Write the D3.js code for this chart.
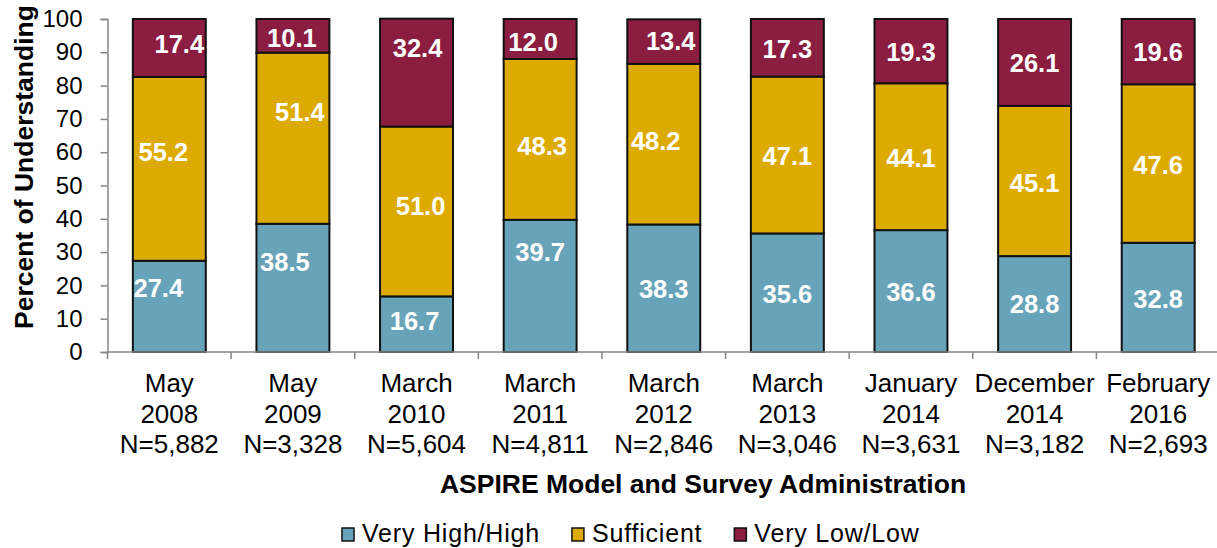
<!DOCTYPE html>
<html>
<head>
<meta charset="utf-8">
<script src="https://cdn.jsdelivr.net/npm/d3@7"></script>
<style>
  html, body { margin: 0; padding: 0; background: #fff; }
  svg { display: block; font-family: "Liberation Sans", Arial, sans-serif; }
</style>
</head>
<body>
<svg id="chart" width="1217" height="548"></svg>
<script>
// Survey administrations (category axis)
const periods = ["May 2008", "May 2009", "March 2010", "March 2011", "March 2012",
                 "March 2013", "January 2014", "December 2014", "February 2016"];
const periodMonth = ["May", "May", "March", "March", "March", "March", "January", "December", "February"];
const periodYear  = ["2008", "2009", "2010", "2011", "2012", "2013", "2014", "2014", "2016"];
const sampleSize  = ["5,882", "3,328", "5,604", "4,811", "2,846", "3,046", "3,631", "3,182", "2,693"];

// Percent of understanding by level
const veryHighHigh = [27.4, 38.5, 16.7, 39.7, 38.3, 35.6, 36.6, 28.8, 32.8];
const sufficient   = [55.2, 51.4, 51.0, 48.3, 48.2, 47.1, 44.1, 45.1, 47.6];
const veryLowLow   = [17.4, 10.1, 32.4, 12.0, 13.4, 17.3, 19.3, 26.1, 19.6];

const seriesNames = ["Very High/High", "Sufficient", "Very Low/Low"];
const yTicks = [0, 10, 20, 30, 40, 50, 60, 70, 80, 90, 100];

// Styling
const colors = ["#67A3B9", "#DDAA00", "#8B1D40"];
// Hand-placed offsets [dx, dy] of value labels, per bar, per segment
const labelNudge = [
  [[-11, -19], [-6, -17], [10, -4]],
  [[-8, -26], [7, -26], [-1, 2]],
  [[-2, -3], [4, -6], [1, -25]],
  [[0, -34], [2, 6], [-7, 3]],
  [[0, 1], [-8, -3], [7, -1]],
  [[0, 1], [0, 1], [0, 1]],
  [[0, 1], [0, 1], [0, 1]],
  [[0, 0], [0, 2], [0, 0]],
  [[0, 1], [0, 1], [0, 0]]
];

const svg = d3.select("#chart");
const plotLeft = 107.5, plotRight = 1220, plotTop = 19, plotBottom = 352;

const x = d3.scaleBand().domain(periods).range([plotLeft, plotRight])
  .paddingInner(0.41).paddingOuter(0.205);
const y = d3.scaleLinear().domain([0, 100]).range([plotBottom, plotTop]);

const rows = periods.map((p, i) => ({
  period: p,
  "Very High/High": veryHighHigh[i],
  "Sufficient": sufficient[i],
  "Very Low/Low": veryLowLow[i]
}));
const stacked = d3.stack().keys(seriesNames)(rows);

// Bars
const layers = svg.append("g").selectAll("g").data(stacked).join("g")
  .attr("fill", (d, i) => colors[i]);
layers.selectAll("rect").data(d => d).join("rect")
  .attr("x", d => x(d.data.period))
  .attr("width", x.bandwidth())
  .attr("y", d => y(d[1]))
  .attr("height", d => y(d[0]) - y(d[1]))
  .attr("stroke", "#111")
  .attr("stroke-width", 2);

// Value labels
stacked.forEach((layer, s) => {
  svg.append("g").selectAll("text").data(layer).join("text")
    .attr("x", (d, i) => x(d.data.period) + x.bandwidth() / 2 + labelNudge[i][s][0])
    .attr("y", (d, i) => y((d[0] + d[1]) / 2) + labelNudge[i][s][1])
    .attr("dy", "0.36em")
    .attr("text-anchor", "middle")
    .attr("fill", "#fff")
    .attr("font-weight", "bold")
    .attr("font-size", 25.5)
    .text(d => (d[1] - d[0]).toFixed(1));
});

// Y axis
const yAxis = svg.append("g").attr("transform", `translate(${plotLeft},0)`)
  .call(d3.axisLeft(y).tickValues(yTicks).tickSize(7).tickPadding(18));
yAxis.select(".domain").attr("stroke", "#868686").attr("stroke-width", 1.5);
yAxis.selectAll(".tick line").attr("stroke", "#868686").attr("stroke-width", 1.5);
yAxis.selectAll(".tick text")
  .attr("font-size", 24).attr("fill", "#000")
  .attr("font-family", "Liberation Sans, Arial, sans-serif");

// X axis baseline with boundary ticks
const xg = svg.append("g");
xg.append("line")
  .attr("x1", plotLeft).attr("x2", 1217)
  .attr("y1", plotBottom).attr("y2", plotBottom)
  .attr("stroke", "#868686").attr("stroke-width", 1.5);
const step = x.step();
const boundaries = d3.range(periods.length + 1).map(i => plotLeft + i * step);
xg.selectAll("line.b").data(boundaries).join("line").attr("class", "b")
  .attr("x1", d => d).attr("x2", d => d)
  .attr("y1", plotBottom).attr("y2", plotBottom + 7)
  .attr("stroke", "#868686").attr("stroke-width", 1.5);

// Category labels (three lines)
const catG = svg.append("g").attr("font-size", 26).attr("text-anchor", "middle").attr("fill", "#000");
periods.forEach((p, i) => {
  const cx = x(p) + x.bandwidth() / 2;
  const t = catG.append("text").attr("x", cx);
  [periodMonth[i], periodYear[i], "N=" + sampleSize[i]].forEach((line, k) => {
    t.append("tspan").attr("x", cx).attr("y", 392 + k * 30.5).text(line);
  });
});

// Axis titles
svg.append("text")
  .attr("transform", "translate(33,167) rotate(-90)")
  .attr("text-anchor", "middle")
  .attr("font-weight", "bold").attr("font-size", 26.5)
  .text("Percent of Understanding");

svg.append("text")
  .attr("x", 703).attr("y", 493)
  .attr("text-anchor", "middle")
  .attr("font-weight", "bold").attr("font-size", 26.5)
  .text("ASPIRE Model and Survey Administration");

// Legend
const legend = svg.append("g");
let lx = 342;
seriesNames.forEach((name, i) => {
  legend.append("rect")
    .attr("x", lx).attr("y", 528).attr("width", 12).attr("height", 13)
    .attr("fill", colors[i]).attr("stroke", "#111").attr("stroke-width", 1.5);
  const t = legend.append("text")
    .attr("x", lx + 20).attr("y", 542)
    .attr("font-size", 25).attr("letter-spacing", 0.8)
    .text(name);
  lx += 20 + t.node().getComputedTextLength() + 32;
});
</script>
</body>
</html>
